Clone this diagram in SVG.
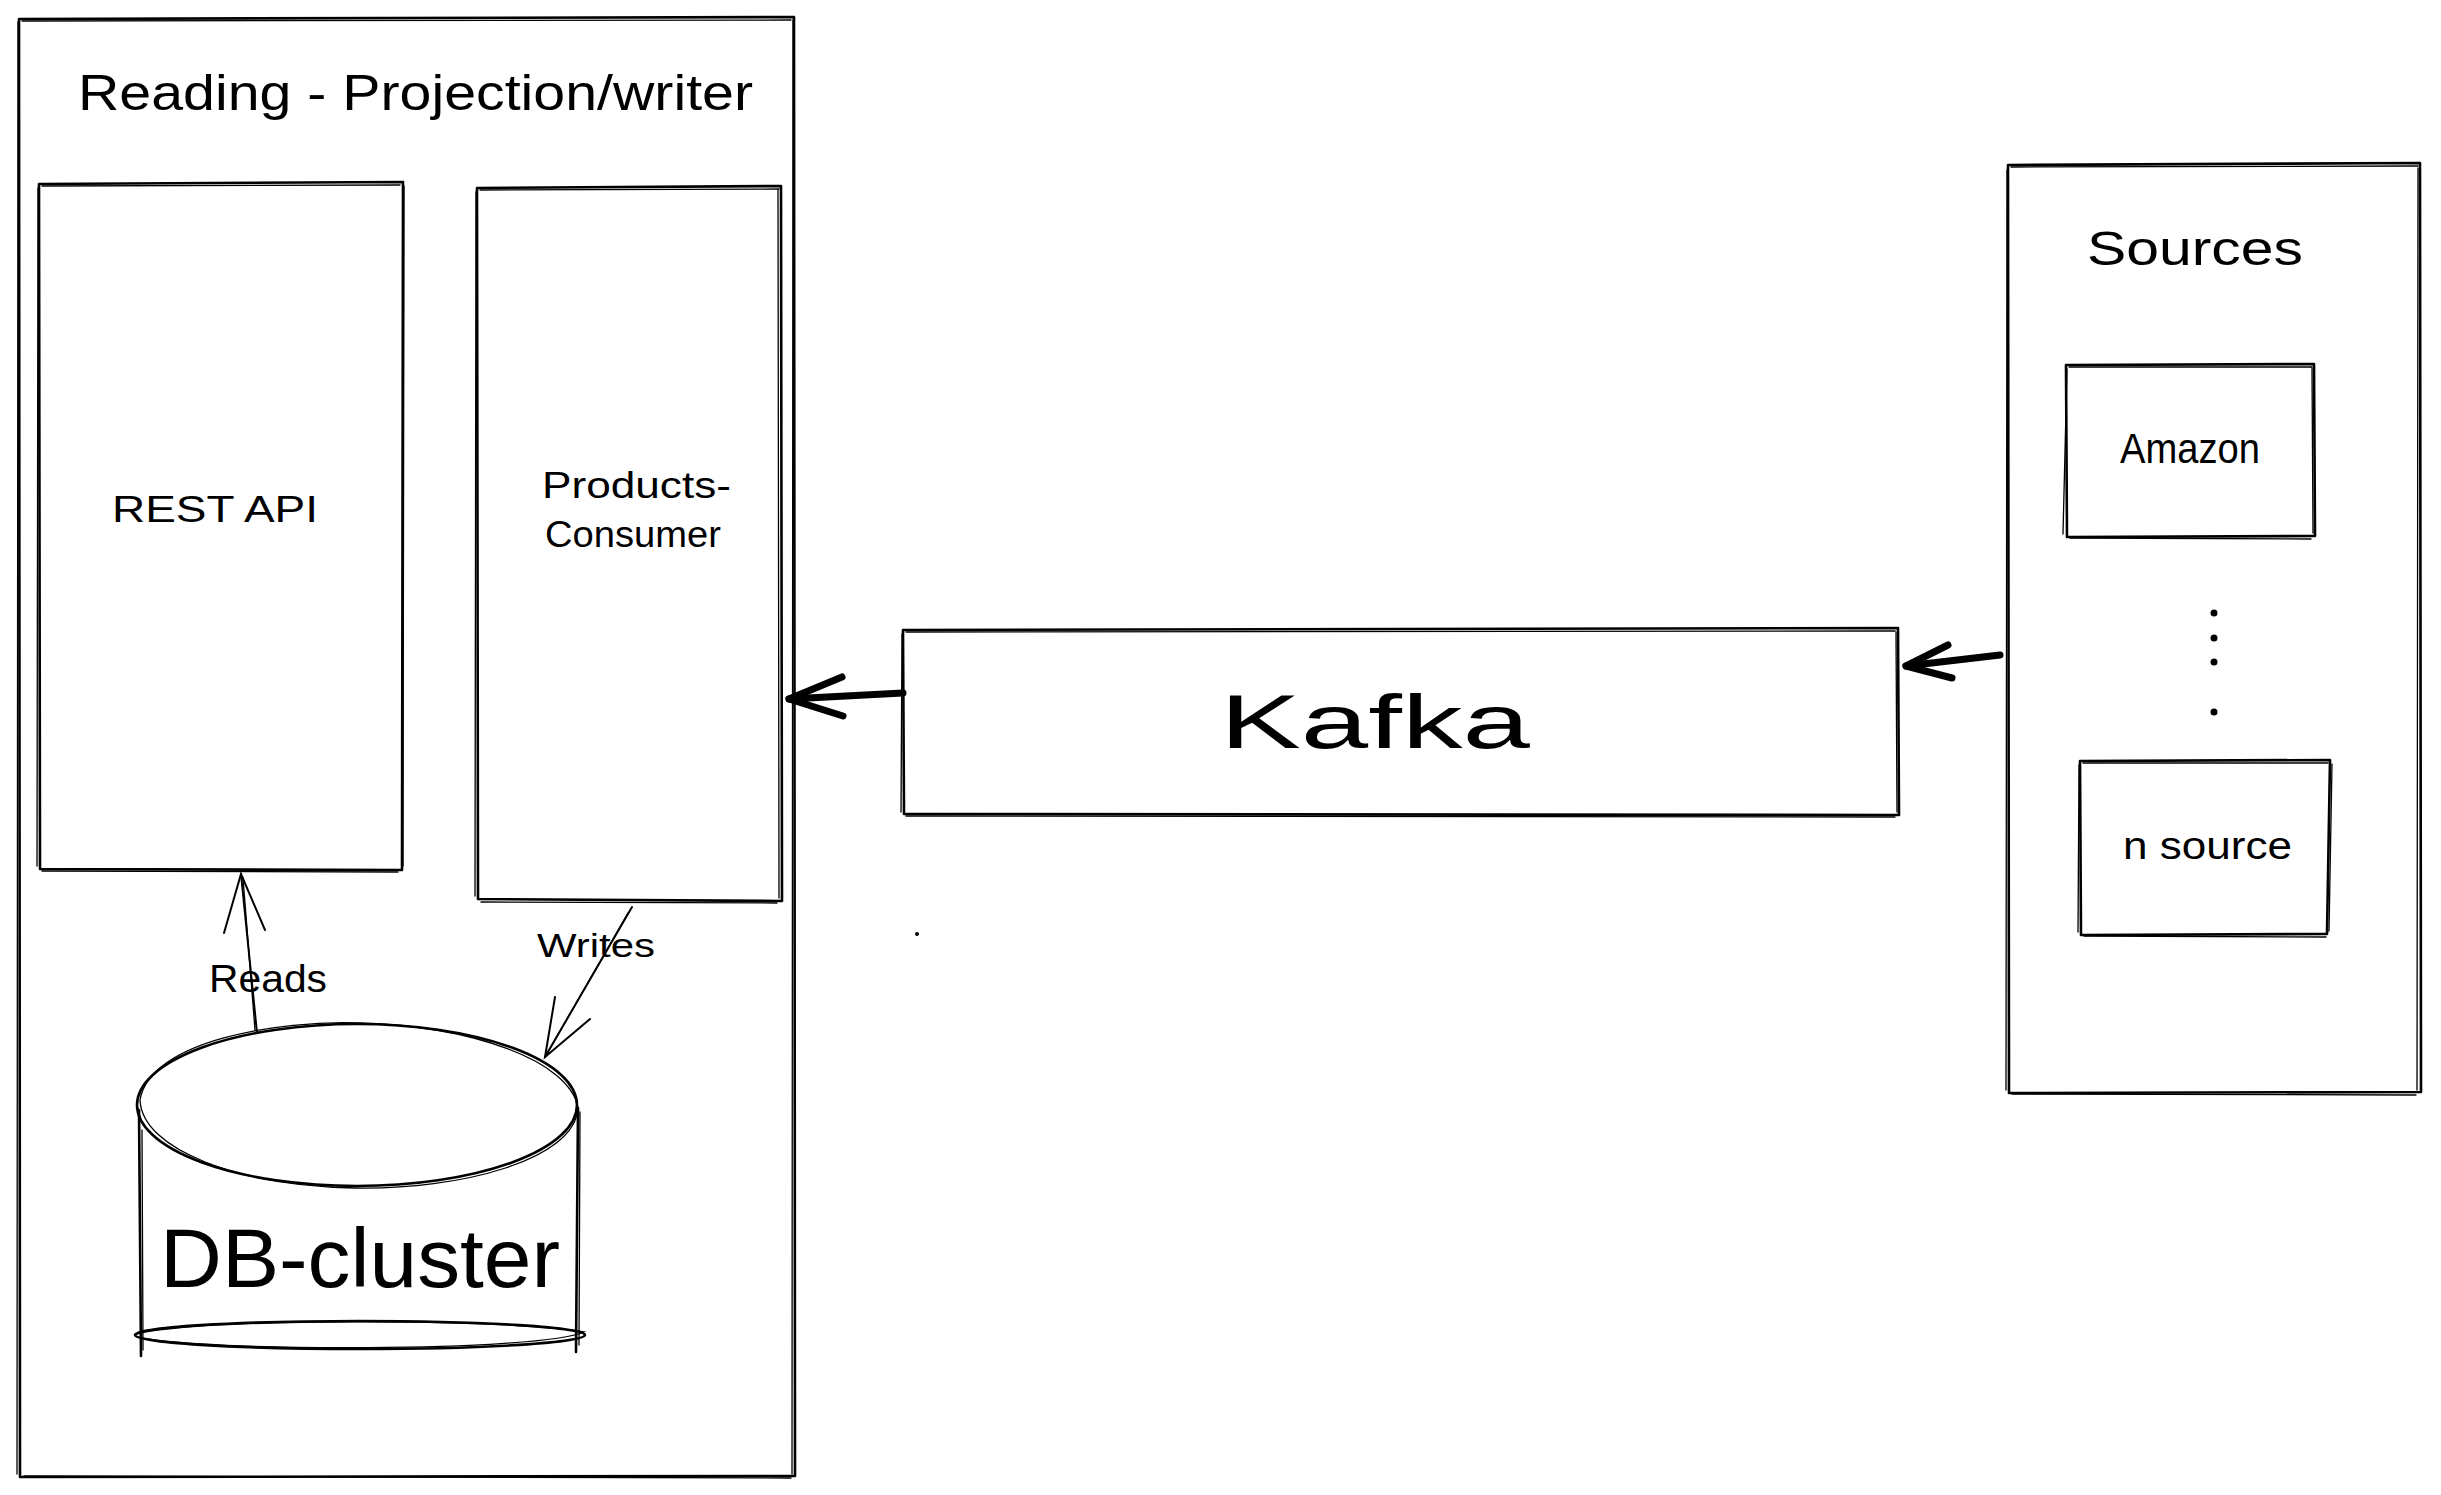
<svg xmlns="http://www.w3.org/2000/svg" width="2441" height="1495" viewBox="0 0 2441 1495">
<style>
.s{fill:none;stroke:#000;stroke-width:2.6;stroke-linecap:round;stroke-linejoin:round}
.t{fill:none;stroke:#000;stroke-width:1.3;stroke-linecap:round}
.a{fill:none;stroke:#000;stroke-width:2;stroke-linecap:round}
.ab{fill:none;stroke:#000;stroke-width:7;stroke-linecap:round;stroke-linejoin:round}
.tx{font-family:"Liberation Sans","Noto Sans",sans-serif;fill:#000}
</style>
<rect width="2441" height="1495" fill="#fff"/>
<g id="reading-group">
<path class="s" d="M19 19 L794 17 L795 1476 L20 1477 Z"/>
<path class="t" d="M22 21 L791 20 M793 20 L792 1474 M791 1478 L24 1476 M17 1474 L18 22"/>
<text class="tx" x="78" y="110" font-size="50" textLength="675" lengthAdjust="spacingAndGlyphs">Reading - Projection/writer</text>
</g>
<g id="rest-api">
<path class="s" d="M39 184 L403 182 L402 870 L40 869 Z"/>
<path class="t" d="M42 186 L400 185 M404 186 L403 866 M398 872 L42 871 M37 866 L38 188"/>
<text class="tx" x="112" y="522" font-size="36" textLength="206" lengthAdjust="spacingAndGlyphs">REST API</text>
</g>
<g id="products-consumer">
<path class="s" d="M477 188 L781 186 L782 901 L478 899 Z"/>
<path class="t" d="M480 190 L779 189 M778 190 L779 898 M777 903 L481 902 M475 896 L476 192"/>
<text class="tx" x="542" y="498" font-size="36" textLength="189" lengthAdjust="spacingAndGlyphs">Products-</text>
<text class="tx" x="545" y="547" font-size="36" textLength="176" lengthAdjust="spacingAndGlyphs">Consumer</text>
</g>
<g id="db-cluster">
<ellipse class="s" cx="357" cy="1105" rx="220" ry="81"/>
<path class="t" d="M140 1100 C 150 1040, 280 1020, 360 1023 C 470 1026, 570 1060, 578 1108 C 575 1160, 460 1190, 355 1188 C 240 1186, 142 1150, 140 1100"/>
<path class="s" d="M139 1110 L141 1356 M578 1108 L576 1352"/>
<path class="t" d="M142 1130 L143 1350 M580 1112 L579 1345"/>
<ellipse class="s" cx="360" cy="1335" rx="225" ry="14"/>
<path class="t" d="M137 1334 C 200 1318, 500 1318, 584 1332 C 540 1352, 200 1352, 137 1337"/>
<text class="tx" x="160" y="1287" font-size="84" textLength="400" lengthAdjust="spacingAndGlyphs">DB-cluster</text>
</g>
<g id="kafka">
<path class="s" d="M903 630 L1898 628 L1899 815 L904 814 Z"/>
<path class="t" d="M906 632 L1895 631 M1896 632 L1897 812 M1895 817 L906 816 M901 812 L902 634"/>
<text class="tx" x="1220" y="748" font-size="76" textLength="310" lengthAdjust="spacingAndGlyphs">Kafka</text>
</g>
<g id="sources">
<path class="s" d="M2008 165 L2420 163 L2421 1092 L2009 1093 Z"/>
<path class="t" d="M2011 167 L2418 166 M2418 168 L2417 1090 M2416 1095 L2012 1094 M2006 1090 L2007 170"/>
<text class="tx" x="2087" y="265" font-size="48" textLength="216" lengthAdjust="spacingAndGlyphs">Sources</text>
<circle cx="2214" cy="613" r="3.5"/>
<circle cx="2214" cy="638" r="3.5"/>
<circle cx="2214" cy="662" r="3.5"/>
<circle cx="2214" cy="712" r="3.5"/>
</g>
<g id="amazon">
<path class="s" d="M2066 365 L2314 364 L2315 536 L2067 537 Z"/>
<path class="t" d="M2069 367 L2312 367 M2312 368 L2313 533 M2311 539 L2070 538 M2063 534 L2067 369"/>
<text class="tx" x="2120" y="463" font-size="42" textLength="140" lengthAdjust="spacingAndGlyphs">Amazon</text>
</g>
<g id="n-source">
<path class="s" d="M2080 761 L2330 760 L2327 934 L2081 935 Z"/>
<path class="t" d="M2083 763 L2328 763 M2332 764 L2329 931 M2326 937 L2084 936 M2078 932 L2079 765"/>
<text class="tx" x="2123" y="859" font-size="38" textLength="169" lengthAdjust="spacingAndGlyphs">n source</text>
</g>
<circle cx="917" cy="934" r="2"/>
<g id="connectors">
<path class="ab" d="M903 693 L789 699"/>
<path class="ab" d="M842 677 L789 699 L843 716"/>
<path class="ab" d="M2000 655 L1906 666"/>
<path class="ab" d="M1948 645 L1906 666 L1952 678"/>
<path class="a" d="M257 1033 L241 874"/>
<path class="t" d="M255 1030 L243 878"/>
<path class="a" d="M224 933 L241 874 L265 930"/>
<path class="a" d="M632 907 L545 1057"/>
<path class="t" d="M628 913 L548 1052"/>
<path class="a" d="M555 997 L545 1057 L590 1019"/>
<text class="tx" x="209" y="992" font-size="38" textLength="118" lengthAdjust="spacingAndGlyphs">Reads</text>
<text class="tx" x="537" y="957" font-size="34" textLength="118" lengthAdjust="spacingAndGlyphs">Writes</text>
</g>
</svg>
